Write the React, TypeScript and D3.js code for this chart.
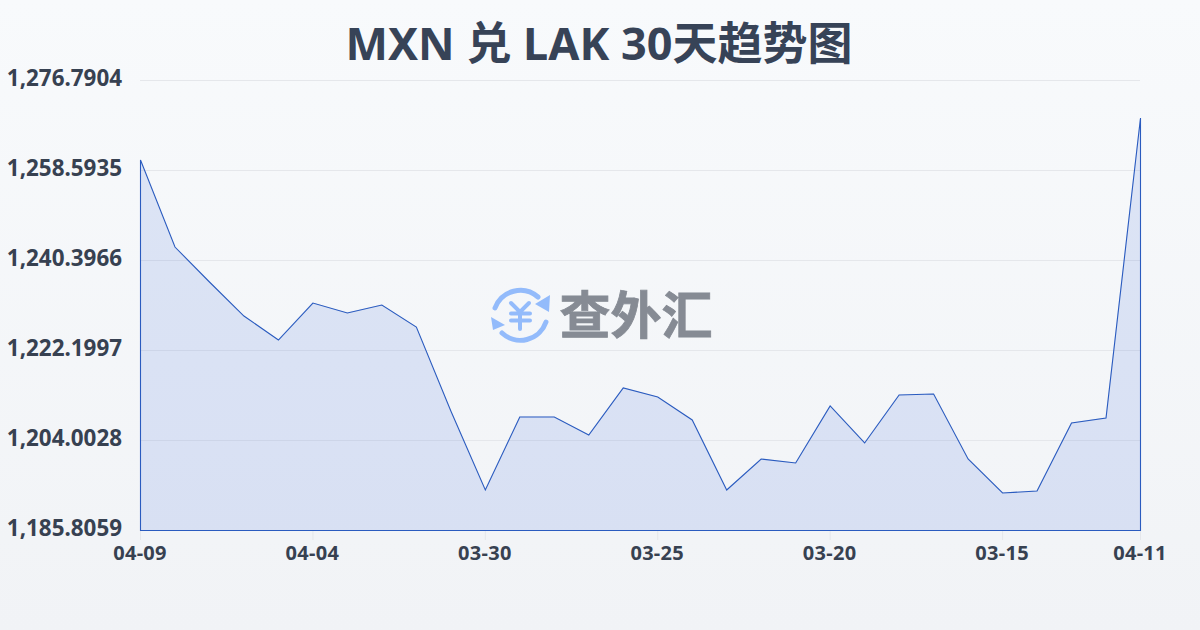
import { scaleLinear, scalePoint, line as d3_line, area as d3_area } from "d3";

const dates = [
  "04-09", "04-08", "04-07", "04-06", "04-05", "04-04", "04-03", "04-02", "04-01", "03-31",
  "03-30", "03-29", "03-28", "03-27", "03-26", "03-25", "03-24", "03-23", "03-22", "03-21",
  "03-20", "03-19", "03-18", "03-17", "03-16", "03-15", "03-14", "03-13", "03-12", "04-11",
];
const rates = [
  1260.72, 1243.12, 1236.05, 1229.17, 1224.32, 1231.8, 1229.78, 1231.4, 1226.95, 1209.97,
  1193.99, 1208.75, 1208.75, 1205.11, 1214.62, 1212.8, 1208.15, 1193.99, 1200.26, 1199.45,
  1210.98, 1203.5, 1213.2, 1213.4, 1200.26, 1193.39, 1193.79, 1207.54, 1208.55, 1269.21,
];
const yTicks = [1185.8059, 1204.0028, 1222.1997, 1240.3966, 1258.5935, 1276.7904];
const xLabels = ["04-09", "04-04", "03-30", "03-25", "03-20", "03-15", "04-11"];

const W = 1200;
const H = 630;
const left = 140;
const right = 1140;
const top = 80;
const bottom = 530;
const font = '"Noto Sans", "Noto Sans CJK SC", sans-serif';
const cjkFont = '"Noto Sans CJK SC", sans-serif';

export default function App() {
  const x = scalePoint<string>().domain(dates).range([left, right]);
  const y = scaleLinear().domain([yTicks[0], yTicks[yTicks.length - 1]]).range([bottom, top]);
  const points = dates.map((d, i) => ({ d, v: rates[i] }));

  const area = d3_area<(typeof points)[number]>()
    .x((p) => x(p.d) ?? 0)
    .y0(bottom)
    .y1((p) => y(p.v));

  return (
    <svg
      width={W}
      height={H}
      viewBox={`0 0 ${W} ${H}`}
      style={{ position: "absolute", left: 0, top: 0, display: "block" }}
    >
      <defs>
        <linearGradient id="bg" x1="0" y1="0" x2="0" y2="1">
          <stop offset="0%" stopColor="#f8fafc" />
          <stop offset="100%" stopColor="#f1f3f6" />
        </linearGradient>
      </defs>
      <rect width={W} height={H} fill="url(#bg)" />

      {/* Title */}
      <text x={599} y={60} textAnchor="middle" fontFamily={font} fontWeight={700} fontSize={45} fill="#374357">
        MXN 兑 LAK 30天趋势图
      </text>

      {/* Grid lines and y labels */}
      {yTicks.map((t) => (
        <g key={t}>
          {t !== yTicks[0] && <line x1={left} x2={right} y1={y(t) + 0.5} y2={y(t) + 0.5} stroke="#e5e7eb" strokeWidth={1} />}
          <text x={122} y={y(t)} dy="0.28em" textAnchor="end" fontFamily={font} fontWeight={700} fontSize={22.4} fill="#374151">
            {t.toLocaleString("en-US", { minimumFractionDigits: 4 })}
          </text>
        </g>
      ))}

      {/* Watermark */}
      <g fill="none" stroke="#93bbfb" strokeWidth={5} strokeLinecap="round">
        <path d="M 495 308 A 27 27 0 0 1 538 297" />
        <path d="M 546 322 A 27 27 0 0 1 502 333" />
        <path d="M 511 303 L 520 312 L 529 303 M 520 312 L 520 329 M 511 313.5 L 530 313.5 M 511 320.5 L 530 320.5" strokeWidth={4} />
      </g>
      <path d="M 550 295 L 549 312 L 535 304 Z M 491 317 L 493 330 L 505 325 Z" fill="#93bbfb" />
      <text x={636} y={334} textAnchor="middle" fontFamily={cjkFont} fontWeight={700} fontSize={51} fill="#868b94" stroke="#868b94" strokeWidth={0.8}>
        查外汇
      </text>

      {/* Area and line */}
      <path d={area(points) ?? ""} fill="#2b5fd8" fillOpacity={0.13} stroke="none" />
      <path
        d={area(points) ?? ""}
        fill="none"
        stroke="#2a5bbf"
        strokeWidth={1.1}
        transform="translate(0.5,0.5)"
      />

      {/* X axis */}
      {xLabels.map((label, i) => {
        const idx = i === xLabels.length - 1 ? dates.length - 1 : i * 5;
        const px = x(dates[idx]) ?? 0;
        return (
          <g key={label}>
            <line x1={px + 0.5} x2={px + 0.5} y1={bottom + 1} y2={bottom + 10} stroke="#e5e7eb" strokeWidth={1} />
            <text x={px} y={559.5} textAnchor="middle" fontFamily={font} fontWeight={700} fontSize={20} fill="#374151" letterSpacing={0.3}>
              {label}
            </text>
          </g>
        );
      })}
    </svg>
  );
}
